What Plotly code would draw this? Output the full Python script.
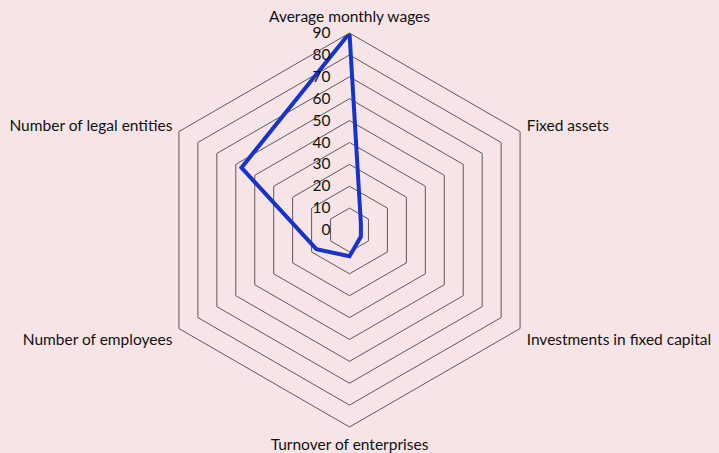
import plotly.graph_objects as go

categories = ["Average monthly wages", "Fixed assets", "Investments in fixed capital",
              "Turnover of enterprises", "Number of employees", "Number of legal entities"]
values = [90, 6, 6, 12, 17.5, 57]
radial_ticks = [0, 10, 20, 30, 40, 50, 60, 70, 80, 90]

BG = "rgb(247,228,231)"
GRID = "rgb(90,90,90)"
FONT = "Lato, 'Open Sans', sans-serif"

fig = go.Figure()
fig.add_trace(go.Scatterpolar(
    r=values + values[:1],
    theta=categories + categories[:1],
    mode="lines",
    line=dict(color="rgb(22,52,204)", width=4),
    showlegend=False,
    hoverinfo="skip",
))

fig.update_layout(
    width=719, height=453,
    margin=dict(l=0, r=0, t=0, b=0),
    paper_bgcolor=BG,
    font=dict(family=FONT, size=15.5, color="#111111"),
    polar=dict(
        bgcolor=BG,
        gridshape="linear",
        domain=dict(x=[0, 0.9722], y=[0.0574, 0.927]),
        radialaxis=dict(
            range=[0, 90],
            tickvals=radial_ticks,
            ticktext=[str(v) for v in radial_ticks],
            angle=90,
            side="counterclockwise",
            tickangle=90,
            showline=False,
            ticks="outside",
            ticklen=13,
            tickcolor="rgba(0,0,0,0)",
            gridcolor=GRID,
            gridwidth=1,
            tickfont=dict(family=FONT, size=15.5, color="#111111"),
        ),
        angularaxis=dict(
            direction="clockwise",
            rotation=90,
            showgrid=False,
            showline=True,
            linecolor=GRID,
            linewidth=1,
            ticks="outside",
            ticklen=4,
            tickcolor="rgba(0,0,0,0)",
            tickfont=dict(family=FONT, size=15.5, color="#111111"),
        ),
    ),
)

fig.write_html("out.html", config={"displayModeBar": False},
               post_script="document.body.style.margin='0px';")
